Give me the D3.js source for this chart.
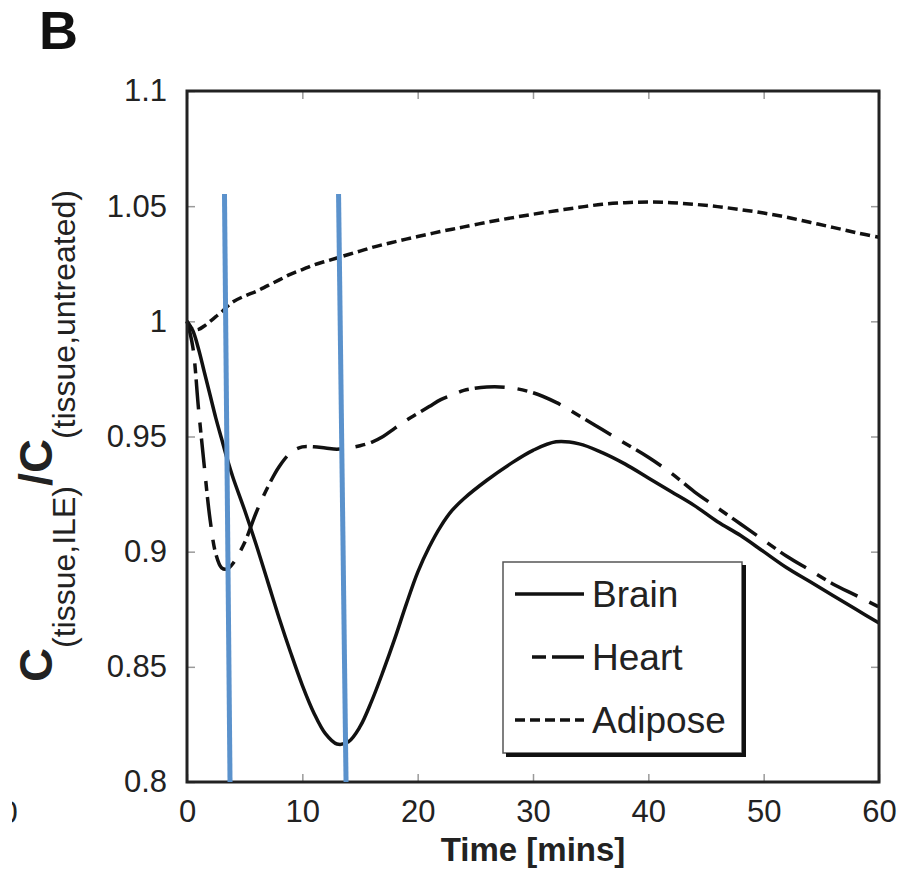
<!DOCTYPE html>
<html>
<head>
<meta charset="utf-8">
<script src="https://cdn.jsdelivr.net/npm/d3@7/dist/d3.min.js"></script>
<style>
  html, body { margin: 0; padding: 0; background: #fff; }
  svg { display: block; }
  text { font-family: "Liberation Sans", Arial, Helvetica, sans-serif; fill: #222; }
</style>
</head>
<body>
<svg id="chart" width="899" height="875"></svg>
<script>
// Simulated tissue concentration ratio (ILE-treated / untreated) over time
const timeMin = [0, 0.5, 1, 1.5, 2, 2.5, 3, 3.5, 4, 5, 6, 7, 8, 9, 10, 11, 12, 13, 14, 15,
  16, 17, 18, 19, 20, 21, 22, 23, 24, 26, 28, 30, 32, 34, 36, 38, 40, 42, 44, 46, 48, 50, 52, 54, 56, 58, 60];

const brain = [1.0, 0.996, 0.988, 0.978, 0.968, 0.958, 0.949, 0.940, 0.932, 0.918, 0.903, 0.887, 0.871, 0.856,
  0.842, 0.830, 0.821, 0.8165, 0.8175, 0.824, 0.835, 0.848, 0.862, 0.877, 0.891, 0.902, 0.911, 0.918, 0.923,
  0.931, 0.938, 0.944, 0.9477, 0.9468, 0.943, 0.938, 0.932, 0.926, 0.920, 0.913, 0.907, 0.900, 0.893, 0.887,
  0.881, 0.875, 0.869];

const heart = [1.0, 0.989, 0.962, 0.937, 0.914, 0.899, 0.893, 0.8925, 0.895, 0.904, 0.917, 0.928, 0.937, 0.943,
  0.9455, 0.9455, 0.945, 0.9445, 0.945, 0.946, 0.9475, 0.950, 0.9535, 0.957, 0.960, 0.963, 0.966, 0.968, 0.970,
  0.9715, 0.9712, 0.969, 0.9648, 0.959, 0.953, 0.947, 0.941, 0.934, 0.926, 0.919, 0.912, 0.905, 0.898, 0.892,
  0.886, 0.881, 0.876];

const adipose = [1.0, 0.9965, 0.9965, 0.998, 1.0, 1.002, 1.004, 1.0065, 1.0085, 1.011, 1.013, 1.0155, 1.018,
  1.0205, 1.0225, 1.0245, 1.026, 1.0275, 1.029, 1.0305, 1.032, 1.0333, 1.0345, 1.0357, 1.0368, 1.0379, 1.039,
  1.040, 1.041, 1.043, 1.0448, 1.0465, 1.048, 1.0495, 1.0508, 1.0515, 1.0518, 1.0515, 1.0508, 1.0498, 1.0485,
  1.047, 1.0452, 1.043, 1.0408, 1.0385, 1.0365];

// Marker lines at two time points: [time at top, value at top, time at bottom, value at bottom]
const markerLines = [
  [3.25, 1.0553, 3.73, 0.8],
  [13.14, 1.0553, 13.79, 0.8]
];

const xTicks = [0, 10, 20, 30, 40, 50, 60];
const yTicks = [0.8, 0.85, 0.9, 0.95, 1.0, 1.05, 1.1];
const yTickLabels = ["0.8", "0.85", "0.9", "0.95", "1", "1.05", "1.1"];

const seriesNames = ["Brain", "Heart", "Adipose"];
const seriesDash = [null, "30,13,10,6", "10,5"];
const seriesData = [brain, heart, adipose];

const svg = d3.select("#chart");
const plotLeft = 187, plotRight = 879, plotTop = 91, plotBottom = 782;

const x = d3.scaleLinear().domain([0, 60]).range([plotLeft, plotRight]);
const y = d3.scaleLinear().domain([0.8, 1.1]).range([plotBottom, plotTop]);

// Panel letter
svg.append("text").attr("x", 39).attr("y", 49)
  .style("font-size", "54px").style("font-weight", "bold").style("fill", "#111").text("B");

// Clipped digit from the neighbouring panel's axis
svg.append("clipPath").attr("id", "edgeClip")
  .append("rect").attr("x", 12).attr("y", 780).attr("width", 30).attr("height", 60);
svg.append("text").attr("x", 9).attr("y", 823).attr("text-anchor", "middle")
  .attr("clip-path", "url(#edgeClip)")
  .style("font-size", "31px").text("0");

// Axes with inward ticks
function styleAxis(g) {
  g.select(".domain").remove();
  g.selectAll(".tick line").attr("stroke", "#9a9a9a").attr("stroke-width", 1.5);
  g.selectAll(".tick text").style("font-size", "31px").style("fill", "#222")
    .style("font-family", "'Liberation Sans', Arial, sans-serif");
}

svg.append("g").attr("transform", `translate(0,${plotBottom})`)
  .call(d3.axisBottom(x).tickValues(xTicks).tickSizeInner(-8).tickSizeOuter(0).tickPadding(18)
    .tickFormat(d3.format("d")))
  .call(styleAxis);

svg.append("g").attr("transform", `translate(0,${plotTop})`)
  .call(d3.axisTop(x).tickValues(xTicks).tickSizeInner(-8).tickSizeOuter(0).tickFormat(""))
  .call(styleAxis);

svg.append("g").attr("transform", `translate(${plotLeft},0)`)
  .call(d3.axisLeft(y).tickValues(yTicks).tickSizeInner(-8).tickSizeOuter(0).tickPadding(20)
    .tickFormat((d, i) => yTickLabels[i]))
  .call(styleAxis);

svg.append("g").attr("transform", `translate(${plotRight},0)`)
  .call(d3.axisRight(y).tickValues(yTicks).tickSizeInner(-8).tickSizeOuter(0).tickFormat(""))
  .call(styleAxis);

// Curves
const line = d3.line()
  .x((d, i) => x(timeMin[i]))
  .y(d => y(d))
  .curve(d3.curveCatmullRom.alpha(0.5));

seriesData.forEach((vals, k) => {
  const p = svg.append("path").datum(vals)
    .attr("d", line)
    .attr("fill", "none")
    .attr("stroke", "#111")
    .attr("stroke-width", 3.5);
  if (seriesDash[k]) p.attr("stroke-dasharray", seriesDash[k]);
});

// Frame
svg.append("rect").attr("x", plotLeft).attr("y", plotTop)
  .attr("width", plotRight - plotLeft).attr("height", plotBottom - plotTop)
  .attr("fill", "none").attr("stroke", "#222").attr("stroke-width", 3);

// Marker lines
svg.selectAll(".marker").data(markerLines).enter().append("line")
  .attr("class", "marker")
  .attr("x1", d => x(d[0])).attr("y1", d => y(d[1]))
  .attr("x2", d => x(d[2])).attr("y2", d => y(d[3]))
  .attr("stroke", "#5b92cc").attr("stroke-width", 5);

// Legend
const lg = svg.append("g");
lg.append("rect").attr("x", 503).attr("y", 562).attr("width", 239).attr("height", 191)
  .attr("fill", "#fff").attr("stroke", "#555").attr("stroke-width", 1.5);
lg.append("line").attr("x1", 744).attr("y1", 565).attr("x2", 744).attr("y2", 757)
  .attr("stroke", "#111").attr("stroke-width", 4);
lg.append("line").attr("x1", 506).attr("y1", 755).attr("x2", 746).attr("y2", 755)
  .attr("stroke", "#111").attr("stroke-width", 4);

const legendY = [594, 657, 720];
const legendX1 = [515, 532, 515];
seriesNames.forEach((name, k) => {
  const l = lg.append("line")
    .attr("x1", legendX1[k]).attr("x2", 584)
    .attr("y1", legendY[k]).attr("y2", legendY[k])
    .attr("stroke", "#111").attr("stroke-width", 3.5);
  if (k === 1) l.attr("stroke-dasharray", "14,6,40");
  if (k === 2) l.attr("stroke-dasharray", "10,5");
  lg.append("text").attr("x", 592).attr("y", legendY[k] + 13)
    .style("font-size", "37px").text(name);
});

// Axis titles
svg.append("text").attr("x", 533).attr("y", 861).attr("text-anchor", "middle")
  .style("font-size", "33px").style("font-weight", "bold").text("Time [mins]");

const yl = svg.append("text")
  .attr("transform", "translate(52,436) rotate(-90)")
  .attr("text-anchor", "middle");
yl.append("tspan").style("font-size", "47px").style("font-weight", "bold").text("C");
yl.append("tspan").attr("dy", 23).style("font-size", "32px").text("(tissue,ILE)");
yl.append("tspan").attr("dy", -23).style("font-size", "47px").style("font-weight", "bold").text("/C");
yl.append("tspan").attr("dy", 23).style("font-size", "32px").text("(tissue,untreated)");
</script>
</body>
</html>
